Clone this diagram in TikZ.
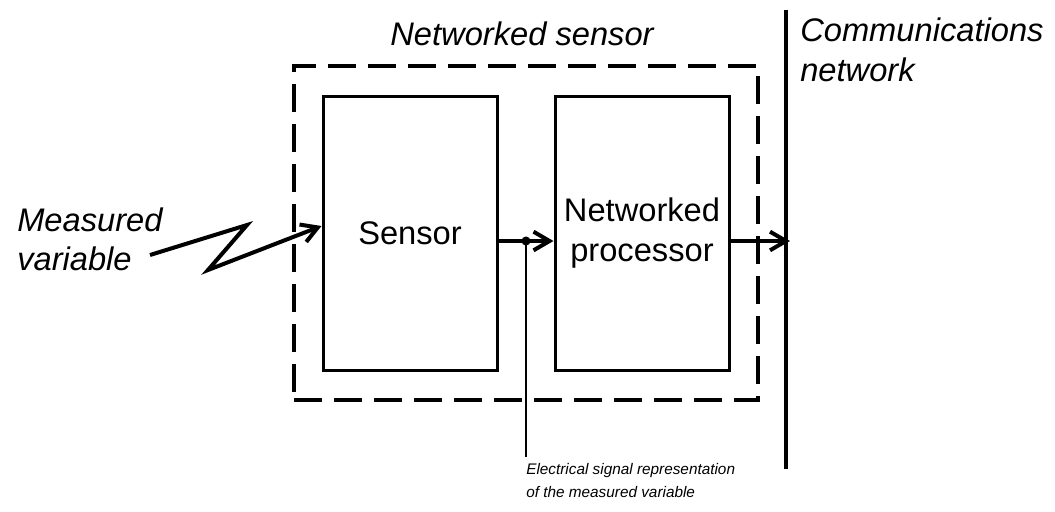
\documentclass[tikz,border=0pt]{standalone}
\usepackage{fontspec}
\setmainfont{Liberation Sans}
\usetikzlibrary{arrows.meta,positioning,calc}
\definecolor{ink}{HTML}{000000}
\tikzset{
  box/.style={rectangle, draw=ink, fill=white, line width=2.25pt, align=center, inner sep=0pt,
              minimum width=130.5pt, minimum height=205.5pt, font={\fontsize{24.5pt}{29.5pt}\selectfont}},
  grp/.style={rectangle, draw=ink, line width=3pt, dash pattern=on 21pt off 9pt,
              minimum width=348pt, minimum height=250.5pt},
  lbl/.style={font={\fontsize{24.5pt}{29.5pt}\selectfont\itshape}, text=ink, align=left, inner sep=0pt},
  note/.style={font={\fontsize{11.5pt}{17pt}\selectfont\itshape}, text=ink, align=left,
               inner xsep=0pt, inner ysep=4.5pt},
  flow/.style={-{Straight Barb[length=12pt, width=14pt]}, draw=ink, line width=3pt},
  wire/.style={draw=ink, line width=1.1pt},
  netline/.style={draw=ink, line width=3pt}
}

\begin{document}
\begin{tikzpicture}[x=0.75pt, y=-0.75pt]
 \useasboundingbox (0,0) rectangle (1055,511);
 % the sensor and its parts
 \node[grp] (netsensor) at (526,233) {};
 \node[box] (sensor) at (410,233) {Sensor};
 \node[box] (proc) at (642,233) {Networked\\processor};
 \node[lbl, anchor=base] (netsensorLbl) at (522,45) {Networked sensor};
 % network
 \coordinate (nettop) at (786,10);
 \coordinate (netbot) at (786,469);
 \draw[netline] (nettop) -- (netbot);
 \node[lbl, anchor=north west] (netLbl) at (800,18) {Communications\\network};
 % measured variable
 \node[lbl, anchor=west] (mv) at (17,239) {Measured\\variable};
 \coordinate (mvstart) at (150,255);
 \coordinate (zigA) at (247,225);
 \coordinate (zigB) at (208,270);
 \coordinate (mvin) at (323,226);
 \draw[flow] (mvstart) -- (zigA) -- (zigB) -- (sensor.west |- mvin);
 % signal
 \coordinate (sig) at (526,241);
 \draw[flow] (sensor.east |- sig) -- (proc.west |- sig);
 \fill[ink] (sig) circle (3.4pt);
 \coordinate (netin) at (790,241);
 \draw[flow] (proc.east |- netin) -- (netin);
 \node[note, anchor=north west] (sigNote) at (526,457) {Electrical signal representation\\of the measured variable};
 \draw[wire] (sig) -- (sig |- sigNote.north);
\end{tikzpicture}
\end{document}
